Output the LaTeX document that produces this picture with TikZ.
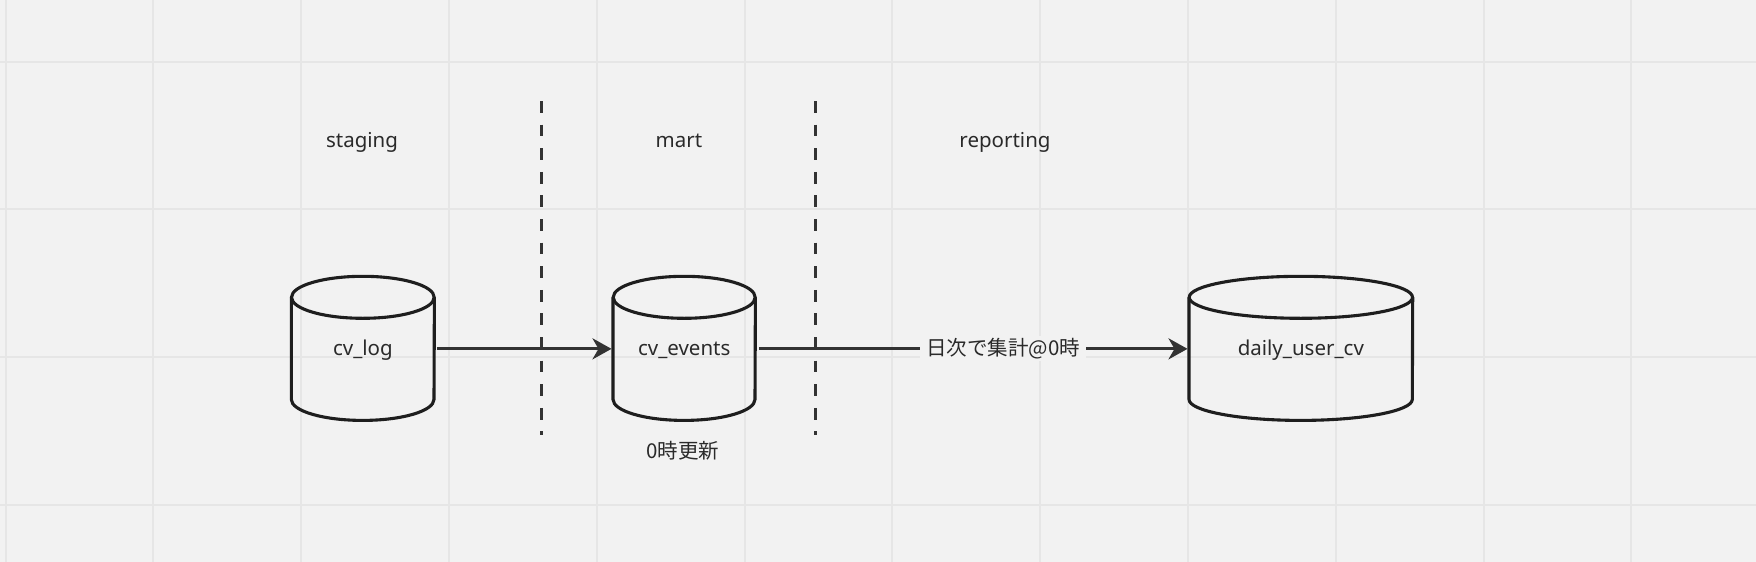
\documentclass[tikz,border=0pt]{standalone}
\usepackage{fontspec}
\setmainfont{Noto Sans}
\newfontfamily\jpfont{Noto Sans CJK JP}
\usetikzlibrary{arrows.meta}
\definecolor{bg}{HTML}{F2F2F2}
\definecolor{gridc}{HTML}{E6E6E6}
\definecolor{ink}{HTML}{1E1E1E}
\definecolor{txt}{HTML}{2A2A2A}
\definecolor{arr}{HTML}{333333}
\newcommand\dbcyl[3]{%
  \draw[cyl] ([yshift=-#3]#1.north) ellipse [x radius=#2, y radius=#3];
  \draw[cyl] ([yshift=-#3]#1.north west) -- ([yshift=#3]#1.south west)
     arc[start angle=180, end angle=360, x radius=#2, y radius=#3]
     -- ([yshift=-#3]#1.north east);
}
\begin{document}
\begin{tikzpicture}[x=1pt,y=-1pt,
  lbl/.style={font=\fontsize{20.5}{24}\selectfont, text=txt, inner sep=0pt, text height=18pt, text depth=4.7pt},
  db/.style={rectangle, inner sep=0pt, minimum height=143.7pt, font=\fontsize{20.5}{24}\selectfont, text=txt},
  dbtext/.style={lbl},
  cyl/.style={draw=ink, line width=3.1pt},
  flow/.style={draw=arr, line width=3.1pt, -{Stealth[length=19pt,width=21pt,inset=6pt]}},
  sep/.style={draw=arr, line width=3pt, dash pattern=on 11.8pt off 11.8pt},
  gridline/.style={draw=gridc, line width=2pt}
]
\fill[bg] (0,0) rectangle (1756,562);
\useasboundingbox (0,0) rectangle (1756,562);
\foreach \i in {0,...,11} {\draw[gridline] ({5.6+147.8*\i},0) -- ({5.6+147.8*\i},562);}
\foreach \j in {0,...,3} {\draw[gridline] (0,{61.6+147.8*\j}) -- (1756,{61.6+147.8*\j});}

% layer labels
\node[lbl] (staging) at (362,141.2) {staging};
\node[lbl] (mart) at (679,141.2) {mart};
\node[lbl] (reporting) at (1005,141.2) {reporting};

% separators
\coordinate (s1t) at (541,101);
\coordinate (s1b) at (541,435);
\coordinate (s2t) at (815.5,101);
\coordinate (s2b) at (815.5,435);
\draw[sep] (s1t) -- (s1b);
\draw[sep] (s2t) -- (s2b);

% databases
\node[db, minimum width=142.7pt] (cvlog) at (362.85,348.35) {};
\node[db, minimum width=142pt] (cvevents) at (684.2,348.35) {};
\node[db, minimum width=223.3pt] (daily) at (1300.85,348.35) {};
\dbcyl{cvlog}{71.35pt}{21pt}
\dbcyl{cvevents}{71pt}{21pt}
\dbcyl{daily}{111.65pt}{21pt}
\node[dbtext] (cvlogtext) at (cvlog.center) {cv\_log};
\node[dbtext] (cveventstext) at (cvevents.center) {cv\_events};
\node[dbtext] (dailytext) at (daily.center) {daily\_user\_cv};

\node[lbl, text height=, text depth=, font=\fontsize{20.5}{24}\selectfont\jpfont] (upd) at (683,451) {0時更新};

% flows
\draw[flow] ([xshift=3pt,yshift=-0.5pt]cvlog.east) -- ([xshift=-1.5pt,yshift=-0.5pt]cvevents.west);
\draw[flow] ([xshift=4pt,yshift=-0.5pt]cvevents.east) -- ([xshift=-1.5pt,yshift=-0.5pt]daily.west)
  node[pos=0.569, fill=bg, inner xsep=6pt, inner ysep=2pt, font=\fontsize{20.5}{24}\selectfont\jpfont, text=txt] (agg) {日次で集計@0時};
\end{tikzpicture}
\end{document}
